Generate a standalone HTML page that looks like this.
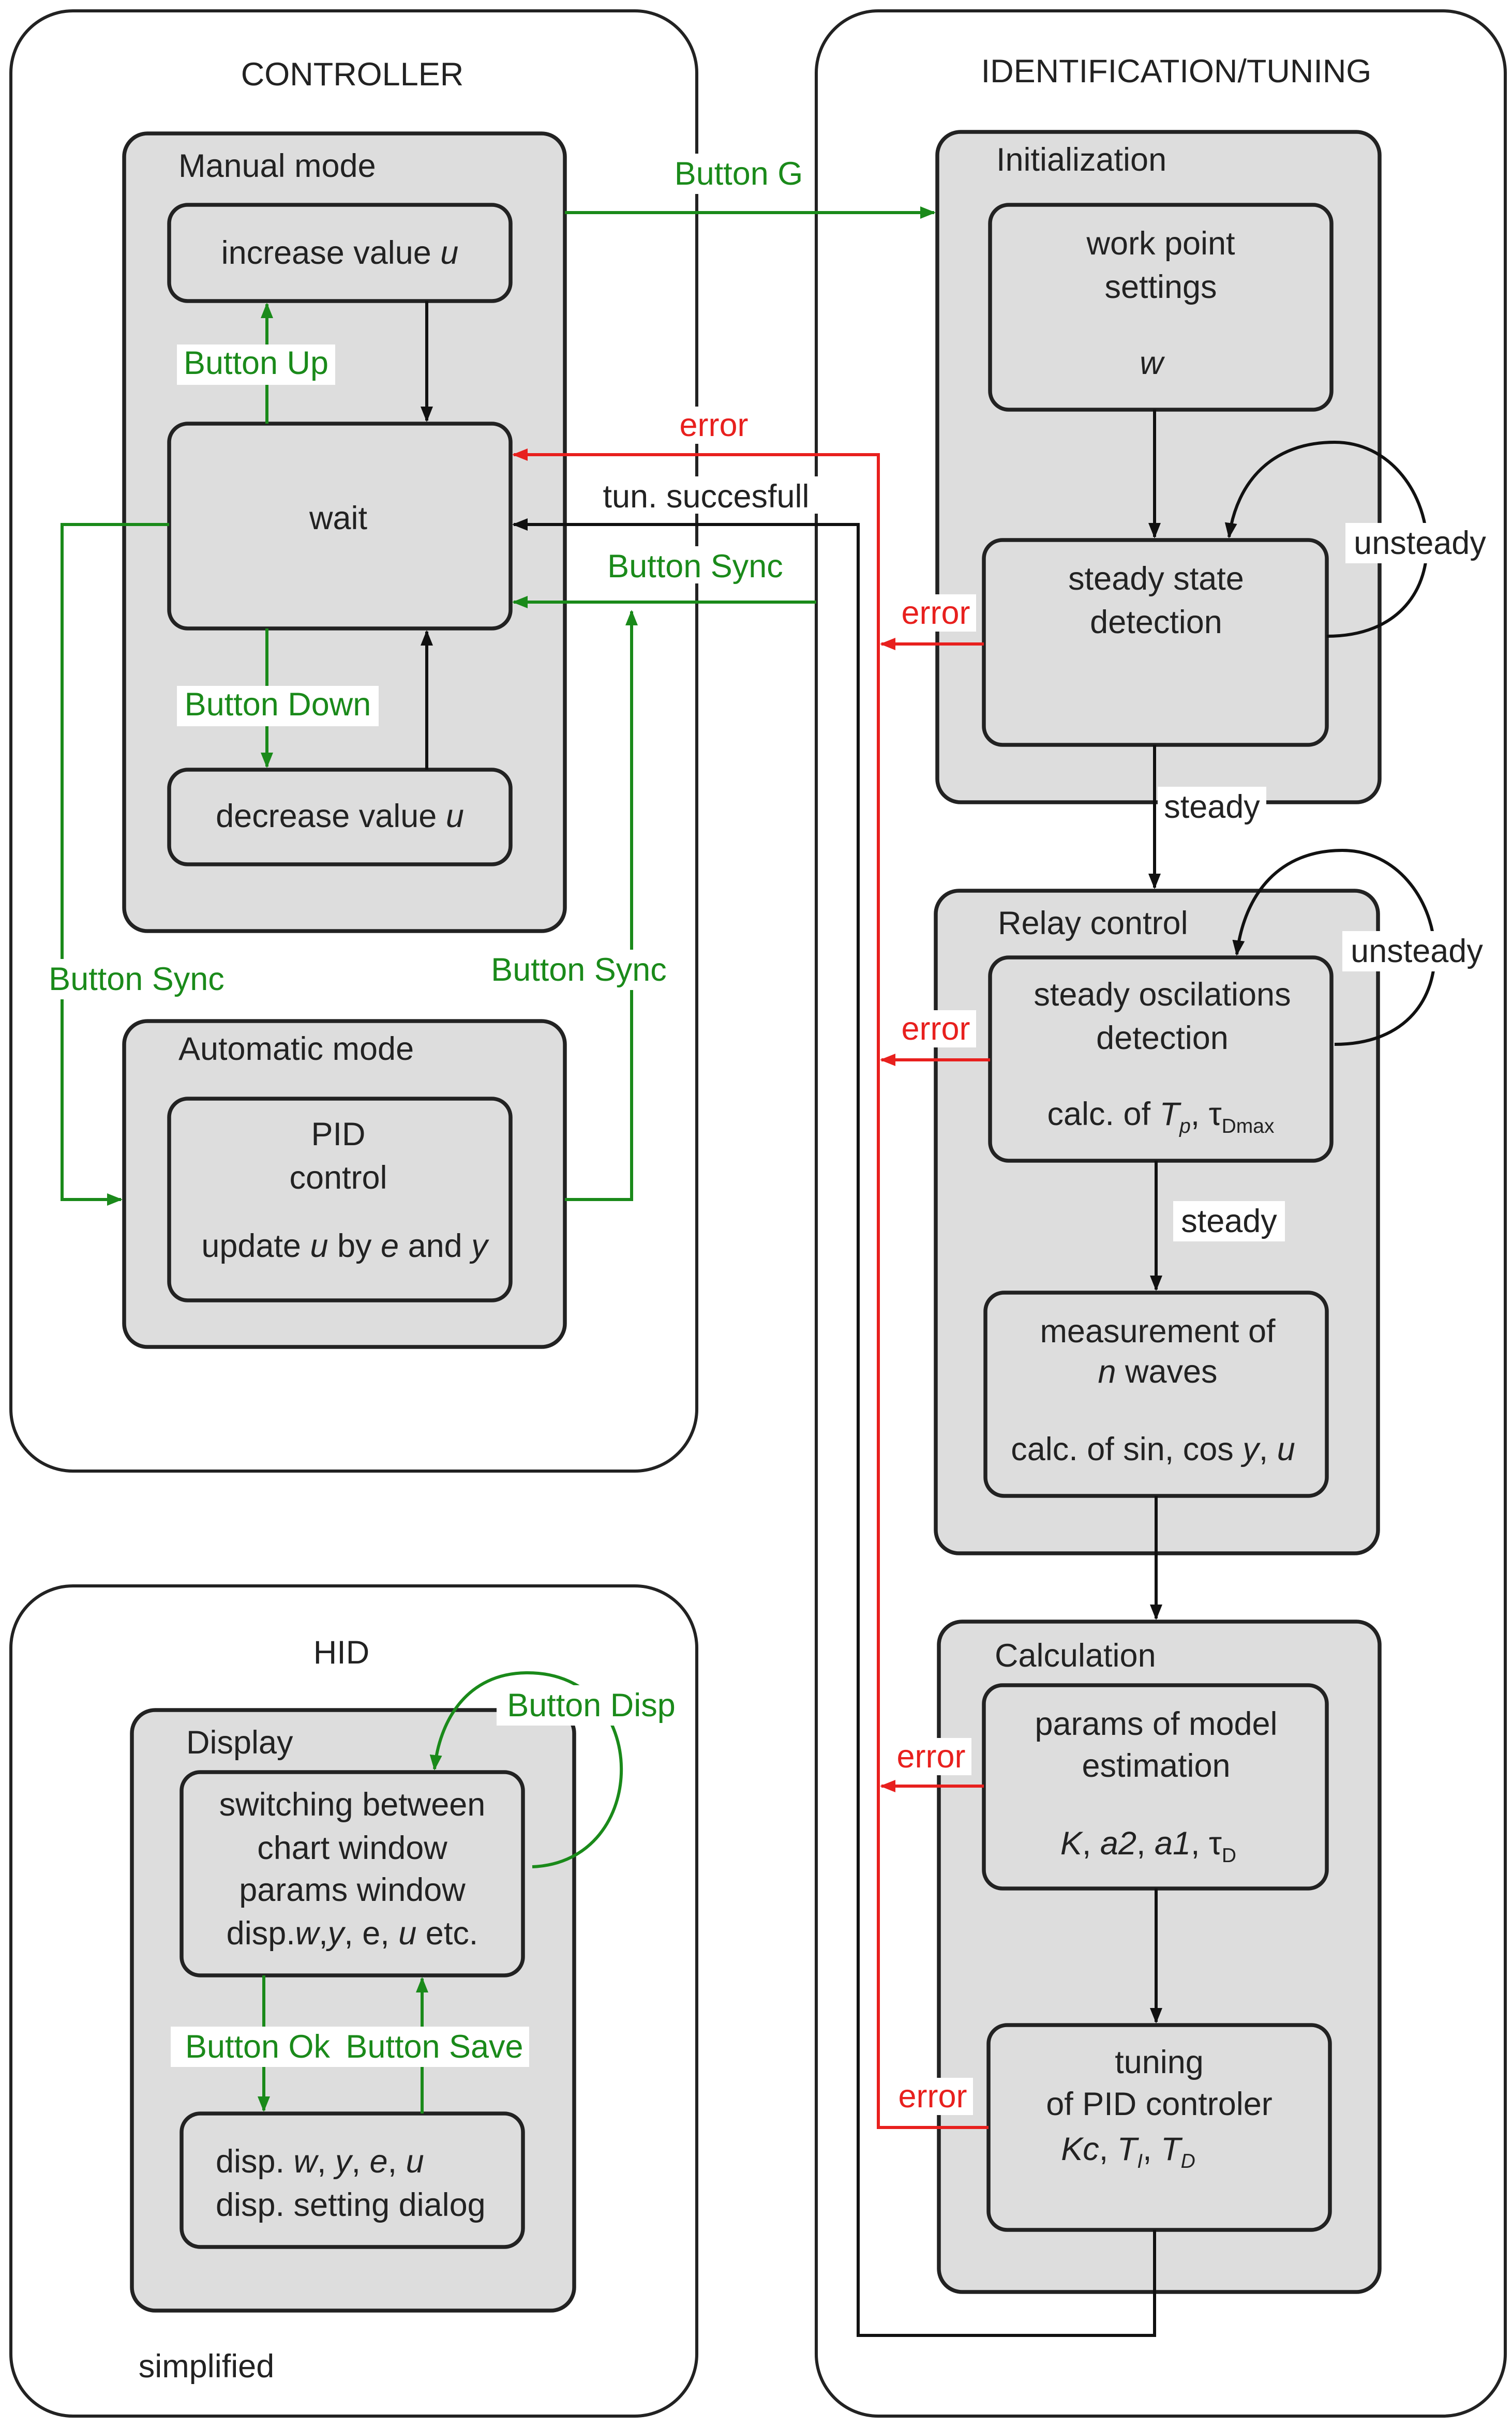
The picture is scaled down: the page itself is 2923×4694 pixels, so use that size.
<!DOCTYPE html>
<html><head><style>
html,body{margin:0;padding:0;background:#fff}
svg{display:block}
text{font-family:"Liberation Sans",sans-serif;font-size:21px;fill:#222}
.g{fill:#1a8a1a}.r{fill:#e8201e}
.m{text-anchor:middle}
</style></head><body>
<svg width="2923" height="4694" viewBox="0 0 974.33 1564.67" xmlns="http://www.w3.org/2000/svg">
<defs>
<marker id="ak" markerWidth="10" markerHeight="10" refX="9" refY="5" orient="auto" markerUnits="userSpaceOnUse"><path d="M0,1 L10,5 L0,9z" fill="#111"/></marker>
<marker id="ag" markerWidth="10" markerHeight="10" refX="9" refY="5" orient="auto" markerUnits="userSpaceOnUse"><path d="M0,1 L10,5 L0,9z" fill="#1a8a1a"/></marker>
<marker id="ar" markerWidth="10" markerHeight="10" refX="9" refY="5" orient="auto" markerUnits="userSpaceOnUse"><path d="M0,1 L10,5 L0,9z" fill="#e8201e"/></marker>
</defs>
<g fill="none" stroke="#222" stroke-width="2">
<rect x="7" y="7" width="442" height="941" rx="40"/>
<rect x="526" y="7" width="444" height="1550" rx="40"/>
<rect x="7" y="1022" width="442" height="535" rx="40"/>
</g>
<g fill="#dddddd" stroke="#222" stroke-width="2.5">
<rect x="80" y="86" width="284" height="514" rx="15"/>
<rect x="80" y="658" width="284" height="210" rx="15"/>
<rect x="604" y="85" width="285" height="432" rx="15"/>
<rect x="603" y="574" width="285" height="427" rx="15"/>
<rect x="605" y="1045" width="284" height="432" rx="15"/>
<rect x="85" y="1102" width="285" height="387" rx="15"/>
<rect x="109" y="132" width="220" height="62" rx="12"/>
<rect x="109" y="273" width="220" height="132" rx="12"/>
<rect x="109" y="496" width="220" height="61" rx="12"/>
<rect x="109" y="708" width="220" height="130" rx="12"/>
<rect x="638" y="132" width="220" height="132" rx="12"/>
<rect x="634" y="348" width="221" height="132" rx="12"/>
<rect x="638" y="617" width="220" height="131" rx="12"/>
<rect x="635" y="833" width="220" height="131" rx="12"/>
<rect x="634" y="1086" width="221" height="131" rx="12"/>
<rect x="637" y="1305" width="220" height="132" rx="12"/>
<rect x="117" y="1142" width="220" height="131" rx="12"/>
<rect x="117" y="1362" width="220" height="86" rx="12"/>
</g>
<g fill="none" stroke-width="2">
<path d="M364,137 H602" stroke="#1a8a1a" marker-end="url(#ag)"/>
<path d="M275,194 V271" stroke="#111" marker-end="url(#ak)"/>
<path d="M172,273 V196" stroke="#1a8a1a" marker-end="url(#ag)"/>
<path d="M172,405 V494" stroke="#1a8a1a" marker-end="url(#ag)"/>
<path d="M275,496 V407" stroke="#111" marker-end="url(#ak)"/>
<path d="M637,1371 H566 V293 H331" stroke="#e8201e" marker-end="url(#ar)"/>
<path d="M634,415 H568" stroke="#e8201e" marker-end="url(#ar)"/>
<path d="M638,683 H568" stroke="#e8201e" marker-end="url(#ar)"/>
<path d="M634,1151 H568" stroke="#e8201e" marker-end="url(#ar)"/>
<path d="M744,1437 V1505 H553 V338 H331" stroke="#111" marker-end="url(#ak)"/>
<path d="M526,388 H331" stroke="#1a8a1a" marker-end="url(#ag)"/>
<path d="M364,773 H407 V394" stroke="#1a8a1a" marker-end="url(#ag)"/>
<path d="M109,338 H40 V773 H78" stroke="#1a8a1a" marker-end="url(#ag)"/>
<path d="M744,264 V346" stroke="#111" marker-end="url(#ak)"/>
<path d="M855,410 C950,410 930,285 860,285 C820,285 797,310 792,346" stroke="#111" marker-end="url(#ak)"/>
<path d="M744,480 V572" stroke="#111" marker-end="url(#ak)"/>
<path d="M860,673 C955,673 935,548 865,548 C825,548 802,575 797,615" stroke="#111" marker-end="url(#ak)"/>
<path d="M745,748 V831" stroke="#111" marker-end="url(#ak)"/>
<path d="M745,964 V1043" stroke="#111" marker-end="url(#ak)"/>
<path d="M745,1217 V1303" stroke="#111" marker-end="url(#ak)"/>
<path d="M343,1203 C420,1200 420,1078 340,1078 C300,1078 283,1110 280,1140" stroke="#1a8a1a" marker-end="url(#ag)"/>
<path d="M170,1273 V1360" stroke="#1a8a1a" marker-end="url(#ag)"/>
<path d="M272,1362 V1275" stroke="#1a8a1a" marker-end="url(#ag)"/>
</g>
<g fill="#fff">
<rect x="114" y="222" width="102" height="26"/>
<rect x="114" y="442" width="130" height="26"/>
<rect x="432" y="262" width="56" height="24"/>
<rect x="577" y="383" width="52" height="24"/>
<rect x="577" y="651" width="52" height="24"/>
<rect x="574" y="1120" width="52" height="24"/>
<rect x="575" y="1339" width="52" height="24"/>
<rect x="867" y="337" width="96" height="26"/>
<rect x="865" y="600" width="96" height="26"/>
<rect x="746" y="507" width="70" height="26"/>
<rect x="756" y="774" width="72" height="26"/>
<rect x="320" y="1086" width="121" height="26"/>
<rect x="110" y="1306" width="231" height="26"/>
<rect x="382" y="307" width="146" height="24"/>
<rect x="385" y="352" width="126" height="24"/>
<rect x="428" y="99" width="96" height="26"/>
<rect x="25" y="618" width="126" height="26"/>
<rect x="310" y="612" width="126" height="26"/>
</g>
<text x="227" y="55" class="m">CONTROLLER</text>
<text x="758" y="53" class="m">IDENTIFICATION/TUNING</text>
<text x="220" y="1072" class="m">HID</text>
<text x="133" y="1532" class="m">simplified</text>
<text x="115" y="114">Manual mode</text>
<text x="115" y="683">Automatic mode</text>
<text x="642" y="110">Initialization</text>
<text x="643" y="602">Relay control</text>
<text x="641" y="1074">Calculation</text>
<text x="120" y="1130">Display</text>
<text x="219" y="170" class="m">increase value <tspan font-style="italic">u</tspan></text>
<text x="218" y="341" class="m">wait</text>
<text x="219" y="533" class="m">decrease value <tspan font-style="italic">u</tspan></text>
<text x="218" y="738" class="m">PID</text>
<text x="218" y="766" class="m">control</text>
<text x="222" y="810" class="m">update <tspan font-style="italic">u</tspan> by <tspan font-style="italic">e</tspan> and <tspan font-style="italic">y</tspan></text>
<text x="748" y="164" class="m">work point</text>
<text x="748" y="192" class="m">settings</text>
<text x="742" y="241" class="m" font-style="italic">w</text>
<text x="745" y="380" class="m">steady state</text>
<text x="745" y="408" class="m">detection</text>
<text x="749" y="648" class="m">steady oscilations</text>
<text x="749" y="676" class="m">detection</text>
<text x="748" y="725" class="m">calc. of <tspan font-style="italic">T</tspan><tspan font-size="13" dy="5" font-style="italic">p</tspan><tspan dy="-5">, τ</tspan><tspan font-size="13" dy="5">Dmax</tspan></text>
<text x="746" y="865" class="m">measurement of</text>
<text x="746" y="891" class="m"><tspan font-style="italic">n</tspan> waves</text>
<text x="743" y="941" class="m">calc. of sin, cos <tspan font-style="italic">y</tspan>, <tspan font-style="italic">u</tspan></text>
<text x="745" y="1118" class="m">params of model</text>
<text x="745" y="1145" class="m">estimation</text>
<text x="740" y="1195" class="m"><tspan font-style="italic">K</tspan>, <tspan font-style="italic">a2</tspan>, <tspan font-style="italic">a1</tspan>, τ<tspan font-size="13" dy="5">D</tspan></text>
<text x="747" y="1336" class="m">tuning</text>
<text x="747" y="1363" class="m">of PID controler</text>
<text x="727" y="1392" class="m"><tspan font-style="italic">Kc</tspan>, <tspan font-style="italic">T</tspan><tspan font-size="13" dy="5" font-style="italic">I</tspan><tspan dy="-5">, </tspan><tspan font-style="italic">T</tspan><tspan font-size="13" dy="5" font-style="italic">D</tspan></text>
<text x="227" y="1170" class="m">switching between</text>
<text x="227" y="1198" class="m">chart window</text>
<text x="227" y="1225" class="m">params window</text>
<text x="227" y="1253" class="m">disp.<tspan font-style="italic">w</tspan>,<tspan font-style="italic">y</tspan>, e, <tspan font-style="italic">u</tspan>  etc.</text>
<text x="139" y="1400">disp. <tspan font-style="italic">w</tspan>, <tspan font-style="italic">y</tspan>, <tspan font-style="italic">e</tspan>, <tspan font-style="italic">u</tspan></text>
<text x="139" y="1428">disp. setting dialog</text>
<text x="476" y="119" class="m g">Button G</text>
<text x="165" y="241" class="m g">Button Up</text>
<text x="179" y="461" class="m g">Button Down</text>
<text x="448" y="372" class="m g">Button Sync</text>
<text x="88" y="638" class="m g">Button Sync</text>
<text x="373" y="632" class="m g">Button Sync</text>
<text x="381" y="1106" class="m g">Button Disp</text>
<text x="166" y="1326" class="m g">Button Ok</text>
<text x="280" y="1326" class="m g">Button Save</text>
<text x="460" y="281" class="m r">error</text>
<text x="603" y="402" class="m r">error</text>
<text x="603" y="670" class="m r">error</text>
<text x="600" y="1139" class="m r">error</text>
<text x="601" y="1358" class="m r">error</text>
<text x="455" y="327" class="m">tun. succesfull</text>
<text x="915" y="357" class="m">unsteady</text>
<text x="913" y="620" class="m">unsteady</text>
<text x="781" y="527" class="m">steady</text>
<text x="792" y="794" class="m">steady</text>
</svg>
</body></html>
